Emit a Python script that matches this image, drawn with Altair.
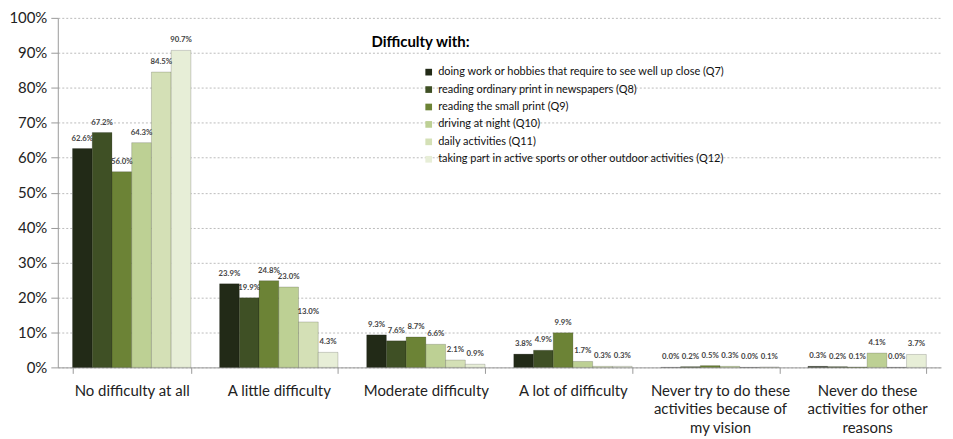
import altair as alt
import pandas as pd

categories = [
    "No difficulty at all",
    "A little difficulty",
    "Moderate difficulty",
    "A lot of difficulty",
    "Never try to do these|activities because of|my vision",
    "Never do these|activities for other|reasons",
]
series = [
    "doing work or hobbies that require to see well up close (Q7)",
    "reading ordinary print in newspapers (Q8)",
    "reading the small print (Q9)",
    "driving at night (Q10)",
    "daily activities (Q11)",
    "taking part in active sports or other outdoor activities (Q12)",
]
colors = ["#222a17", "#3f5025", "#6c8336", "#bdd094", "#d4e0b6", "#e7eed7"]

q7 = [62.6, 23.9, 9.3, 3.8, 0.0, 0.3]
q8 = [67.2, 19.9, 7.6, 4.9, 0.2, 0.2]
q9 = [56.0, 24.8, 8.7, 9.9, 0.5, 0.1]
q10 = [64.3, 23.0, 6.6, 1.7, 0.3, 4.1]
q11 = [84.5, 13.0, 2.1, 0.3, 0.0, 0.0]
q12 = [90.7, 4.3, 0.9, 0.3, 0.1, 3.7]
values = [q7, q8, q9, q10, q11, q12]

rows = []
for s, vals in zip(series, values):
    for c, v in zip(categories, vals):
        rows.append({"cat": c, "series": s, "value": v, "label": f"{v:.1f}%"})
df = pd.DataFrame(rows)

FONT = "Lato"

x = alt.X(
    "cat:N",
    sort=categories,
    title=None,
    scale=alt.Scale(paddingInner=0.195, paddingOuter=0.1),
    axis=alt.Axis(
        labelExpr="split(datum.label, '|')",
        labelAngle=0,
        labelFontSize=15,
        labelColor="#222",
        labelPadding=10,
        labelLineHeight=18.5,
        labelBaseline="top",
        tickBand="extent",
        tickSize=6,
        tickColor="#999",
        domainColor="#999",
        grid=False,
        labelLimit=200,
    ),
)
xo = alt.XOffset("series:N", sort=series, scale=alt.Scale(paddingInner=0, paddingOuter=0))
y = alt.Y(
    "value:Q",
    title=None,
    scale=alt.Scale(domain=[0, 100]),
    axis=alt.Axis(
        values=list(range(0, 101, 10)),
        labelExpr="datum.value + '%'",
        labelFontSize=15,
        labelColor="#222",
        labelPadding=4,
        tickSize=7,
        tickColor="#999",
        domainColor="#999",
        gridColor="#aaa",
        gridDash=[2, 2],
        gridWidth=0.8,
    ),
)

bars = alt.Chart(df).mark_bar(stroke="#000", strokeOpacity=0.25, strokeWidth=0.7).encode(
    x=x,
    xOffset=xo,
    y=y,
    color=alt.Color(
        "series:N",
        sort=series,
        scale=alt.Scale(domain=series, range=colors),
        legend=alt.Legend(
            title=None,
            orient="none",
            legendX=367,
            legendY=49,
            symbolType="square",
            symbolSize=45,
            symbolStrokeWidth=0,
            labelFontSize=11,
            labelColor="#111",
            rowPadding=5.5,
            labelLimit=400,
        ),
    ),
)

texts = alt.Chart(df).mark_text(
    dy=-6, fontSize=7.8, fontWeight="bold", color="#444", baseline="bottom"
).encode(x=x, xOffset=xo, y=y, text="label:N")

title = alt.Chart(pd.DataFrame({"t": ["Difficulty with:"]})).mark_text(
    align="left", baseline="alphabetic", fontSize=15, fontWeight="bold", color="#000"
).encode(x=alt.value(315), y=alt.value(29), text="t:N")

chart = (
    alt.layer(bars, texts, title)
    .properties(
        width=887,
        height=351,
        autosize=alt.AutoSizeParams(type="none"),
        padding={"left": 50, "top": 9, "right": 4, "bottom": 70},
    )
    .configure(font=FONT)
    .configure_view(stroke=None)
)

chart.save("out.html", embed_options={"renderer": "svg", "actions": False})
